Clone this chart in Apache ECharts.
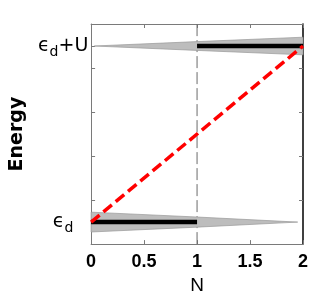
<!DOCTYPE html>
<html>
<head>
<meta charset="utf-8">
<script src="https://cdn.jsdelivr.net/npm/echarts@6/dist/echarts.min.js"></script>
<style>html,body{margin:0;padding:0;background:#fff}#c{width:332px;height:300px}</style>
</head>
<body>
<div id="c"></div>
<script>
// ---- data ----
const xTicks = [0, 0.5, 1, 1.5, 2];
const levelLow = 0.5;          // epsilon_d
const levelHigh = 4.5;         // epsilon_d + U
const lowWedgeN = [0, 1, 1.95];
const lowWedgeHalf = [0.225, 0.115, 0];
const highWedgeN = [0.03, 1, 2];
const highWedgeHalf = [0, 0.1, 0.2];
const lowBarN = [0, 1];
const highBarN = [1, 2];
const redN = [0, 2];
const redE = [0.5, 4.5];
const dividerN = 1;
const yLabelValues = [0.5, 4.5];
const yTickValues = [0.5, 1, 2, 3, 4, 4.5];

const chart = echarts.init(document.getElementById('c'), null, {renderer: 'canvas'});

const wedges = [
  {n: lowWedgeN, h: lowWedgeHalf, level: levelLow},
  {n: highWedgeN, h: highWedgeHalf, level: levelHigh}
];

function wedgeRender(params, api) {
  const w = wedges[params.dataIndex];
  const up = [], dn = [];
  for (let i = 0; i < w.n.length; i++) {
    up.push(api.coord([w.n[i], w.level + w.h[i]]));
    dn.unshift(api.coord([w.n[i], w.level - w.h[i]]));
  }
  return {
    type: 'polygon',
    shape: {points: up.concat(dn)},
    style: {fill: '#bdbdbd', stroke: '#9a9a9a', lineWidth: 0.7}
  };
}

const tickLabel = {fontFamily: 'Liberation Sans', fontWeight: 'bold', fontSize: 18, color: '#000'};

chart.setOption({
  animation: false,
  grid: {left: 61, right: 29, top: 24, bottom: 54, containLabel: false},
  xAxis: [{
    type: 'value', min: 0, max: 2, interval: 0.5,
    name: 'N', nameLocation: 'middle', nameGap: 28,
    nameTextStyle: {fontFamily: 'Liberation Sans', fontSize: 19, color: '#000'},
    axisLine: {show: true, onZero: false, lineStyle: {color: '#7a7a7a', width: 1}},
    axisTick: {show: true, inside: true, length: 4, lineStyle: {color: '#7a7a7a'}},
    axisLabel: Object.assign({margin: 9, formatter: v => String(v)}, tickLabel),
    splitLine: {show: false}
  }, {
    type: 'value', min: 0, max: 2, interval: 0.5, position: 'top',
    axisLine: {show: true, onZero: false, lineStyle: {color: '#7a7a7a', width: 1}},
    axisTick: {show: true, inside: true, length: 4, lineStyle: {color: '#7a7a7a'}},
    axisLabel: {show: false}, splitLine: {show: false}
  }],
  yAxis: [{
    type: 'value', min: 0, max: 5, interval: 1,
    name: 'Energy', nameLocation: 'middle', nameGap: 36, nameRotate: 90,
    nameTextStyle: {fontFamily: 'DejaVu Sans', fontWeight: 'bold', fontSize: 19, color: '#000'},
    axisLine: {show: true, onZero: false, lineStyle: {color: '#7a7a7a', width: 1}},
    axisTick: {show: true, inside: true, length: 4, customValues: yTickValues, lineStyle: {color: '#7a7a7a'}},
    axisLabel: {
      show: true, customValues: yLabelValues, margin: 28, align: 'center',
      formatter: v => v === levelLow ? '{e|ϵ}{s|d}' : '{e|ϵ}{s|d}{e|+U}',
      rich: {
        e: {fontFamily: 'DejaVu Sans', fontSize: 19, color: '#000'},
        s: {fontFamily: 'DejaVu Sans', fontSize: 14, color: '#000', padding: [12, 0, 0, 0]}
      }
    },
    splitLine: {show: false}
  }, {
    type: 'value', min: 0, max: 5, interval: 1, position: 'right',
    axisLine: {show: true, onZero: false, lineStyle: {color: '#000', width: 1.5}},
    axisTick: {show: true, inside: true, length: 4, lineStyle: {color: '#7a7a7a'}},
    axisLabel: {show: false}, splitLine: {show: false}
  }],
  series: [
    {
      type: 'custom', renderItem: wedgeRender, data: [0, 1], silent: true, z: 2
    },
    {
      type: 'line', data: [[dividerN, 0], [dividerN, 5]], symbol: 'none',
      lineStyle: {color: '#6a6a6a', width: 1, type: [12, 4]}, z: 1
    },
    {
      type: 'line', data: lowBarN.map(n => [n, levelLow]), symbol: 'none',
      lineStyle: {color: '#000', width: 4.5}, z: 3
    },
    {
      type: 'line', data: highBarN.map(n => [n, levelHigh]), symbol: 'none',
      lineStyle: {color: '#000', width: 4.5}, z: 3
    },
    {
      type: 'line', data: redN.map((n, i) => [n, redE[i]]), symbol: 'none',
      lineStyle: {color: '#ff0000', width: 3.5, type: [11, 5]}, z: 4
    }
  ]
});
</script>
</body>
</html>
